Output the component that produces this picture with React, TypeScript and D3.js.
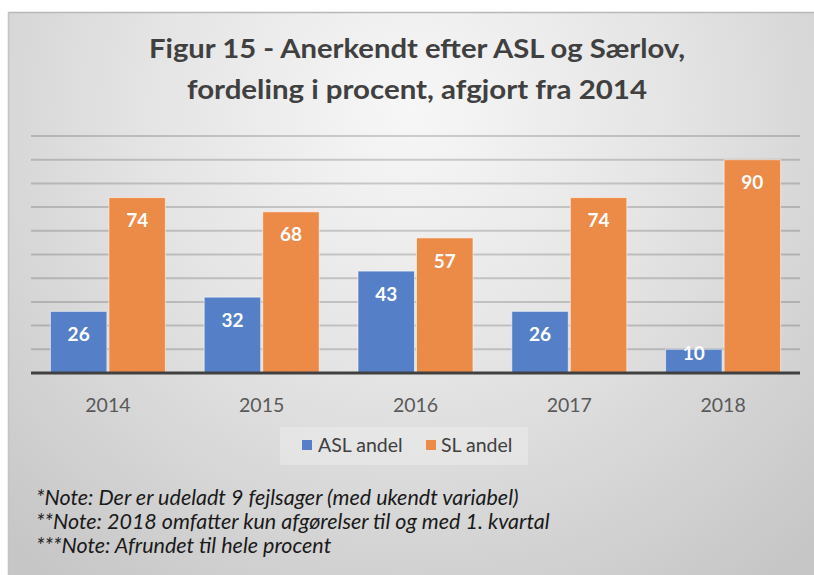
import React from "react";
import * as d3 from "d3";

const years = ["2014", "2015", "2016", "2017", "2018"];
const seriesNames = ["ASL andel", "SL andel"];
const aslValues = [26, 32, 43, 26, 10];
const slValues = [74, 68, 57, 74, 90];
const yTicks = [10, 20, 30, 40, 50, 60, 70, 80, 90, 100];
const titleLines = ["Figur 15 - Anerkendt efter ASL og Særlov,", "fordeling i procent, afgjort fra 2014"];
const notes = [
  "*Note: Der er udeladt 9 fejlsager (med ukendt variabel)",
  "**Note: 2018 omfatter kun afgørelser til og med 1. kvartal",
  "***Note: Afrundet til hele procent",
];

const W = 814;
const H = 575;
const colors = ["#5580C8", "#EC8A48"];
const FONT = "Lato, 'Open Sans', sans-serif";

export default function App() {
  const plotLeft = 31;
  const plotRight = 800;
  const y0 = 373;
  const yTop = 136;

  const x = d3.scaleBand<string>().domain(years).range([plotLeft, plotRight]).padding(0);
  const groupW = 115;
  const x1 = d3.scaleBand<string>().domain(seriesNames).range([0, groupW]).paddingInner(0.035);
  const y = d3.scaleLinear().domain([0, 100]).range([y0, yTop]);

  const series = [aslValues, slValues];

  return (
    <svg
      width={W}
      height={H}
      style={{ position: "absolute", left: 0, top: 0, display: "block" }}
      xmlns="http://www.w3.org/2000/svg"
    >
      <defs>
        <radialGradient id="bg" gradientUnits="userSpaceOnUse" cx={410} cy={110} r={590}>
          <stop offset="0" stopColor="#f7f7f7" />
          <stop offset="0.45" stopColor="#e4e4e4" />
          <stop offset="1" stopColor="#c6c6c6" />
        </radialGradient>
      </defs>
      <rect x={0} y={0} width={W} height={H} fill="#ffffff" />
      <rect x={8} y={12} width={W - 8} height={H - 12} fill="url(#bg)" />
      <line x1={8} x2={W} y1={12.5} y2={12.5} stroke="#b8b8b8" strokeWidth={1.5} />
      <line x1={8.5} x2={8.5} y1={12} y2={H} stroke="#c4c4c4" strokeWidth={1.5} />

      {/* title */}
      {titleLines.map((t, i) => (
        <text
          key={i}
          x={417}
          y={58 + i * 41}
          textAnchor="middle"
          fontFamily={FONT}
          fontWeight={700}
          fontSize={27}
          fill="#404040"
          textLength={i === 0 ? 536 : 460}
          lengthAdjust="spacingAndGlyphs"
        >
          {t}
        </text>
      ))}

      {/* gridlines */}
      {yTicks.map((v) => (
        <line
          key={v}
          x1={plotLeft}
          x2={plotRight}
          y1={y(v)}
          y2={y(v)}
          stroke="rgba(0,0,0,0.17)"
          strokeWidth={2}
        />
      ))}

      {/* bars */}
      {years.map((yr, i) => {
        const cx = (x(yr) ?? 0) + x.bandwidth() / 2;
        const gx = cx - groupW / 2;
        return (
          <g key={yr}>
            {series.map((vals, s) => {
              const v = vals[i];
              const bx = gx + (x1(seriesNames[s]) ?? 0);
              const bw = x1.bandwidth();
              const top = y(v);
              const h = y0 - top;
              const ly = h > 40 ? top + 23 : top + 4;
              return (
                <g key={s}>
                  <rect
                    x={bx}
                    y={top}
                    width={bw}
                    height={h}
                    fill={colors[s]}
                    stroke="rgba(255,255,255,0.55)"
                    strokeWidth={1}
                  />
                  <text
                    x={bx + bw / 2}
                    y={ly}
                    dy="0.35em"
                    textAnchor="middle"
                    fontFamily={FONT}
                    fontWeight={700}
                    fontSize={19}
                    fill="#ffffff"
                  >
                    {v}
                  </text>
                </g>
              );
            })}
            <text
              x={cx}
              y={405}
              dy="0.35em"
              textAnchor="middle"
              fontFamily={FONT}
              fontSize={19.5}
              fill="#595959"
            >
              {yr}
            </text>
          </g>
        );
      })}

      {/* baseline */}
      <line x1={plotLeft} x2={plotRight} y1={y0} y2={y0} stroke="#404040" strokeWidth={3} />

      {/* legend */}
      <rect x={280} y={427} width={248} height={38} fill="rgba(255,255,255,0.25)" />
      <rect x={302} y={440} width={10} height={10} fill={colors[0]} />
      <text x={318} y={445} dy="0.35em" fontFamily={FONT} fontSize={19.5} fill="#404040">
        {seriesNames[0]}
      </text>
      <rect x={426} y={440} width={10} height={10} fill={colors[1]} />
      <text x={441} y={445} dy="0.35em" fontFamily={FONT} fontSize={19.5} fill="#404040">
        {seriesNames[1]}
      </text>

      {/* notes */}
      {notes.map((n, i) => (
        <text
          key={i}
          x={36}
          y={497 + i * 24}
          dy="0.35em"
          fontFamily={FONT}
          fontStyle="italic"
          fontSize={21.5}
          fill="#1a1a1a"
        >
          {n}
        </text>
      ))}
    </svg>
  );
}
